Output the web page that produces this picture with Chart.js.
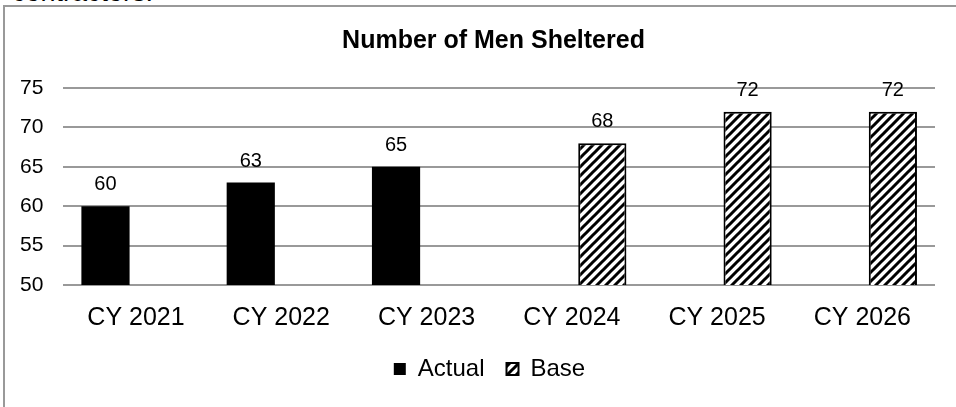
<!DOCTYPE html>
<html>
<head>
<meta charset="utf-8">
<script src="https://cdn.jsdelivr.net/npm/chart.js@4.4.1/dist/chart.umd.min.js"></script>
<style>
  html, body { margin: 0; padding: 0; background: #fff; overflow: hidden; }
  body { width: 956px; height: 407px; position: relative; font-family: "Liberation Sans", Arial, sans-serif; }
  .prev { position: absolute; left: 12px; top: -21px; font-size: 27px; line-height: 27px; color: #000; }
  .frame { position: absolute; left: 3px; top: 5px; width: 1000px; height: 500px; border: 2px solid #999; box-sizing: border-box; }
  #chart-1 { position: absolute; left: 0; top: 0; }
</style>
</head>
<body>
<div class="prev">contractors.</div>
<div class="frame"></div>
<canvas id="chart-1" width="956" height="407"></canvas>
<script>
// values
const categories = ['CY 2021', 'CY 2022', 'CY 2023', 'CY 2024', 'CY 2025', 'CY 2026'];
const actualValues = [60, 63, 65, null, null, null];
const baseValues = [null, null, null, 68, 72, 72];
const yTicks = [50, 55, 60, 65, 70, 75];

Chart.defaults.font.family = '"Liberation Sans", Arial, sans-serif';
Chart.defaults.color = '#000';

// diagonal hatch for the "Base" bars
function makeHatch() {
  const size = 9;
  const c = document.createElement('canvas');
  c.width = size;
  c.height = size;
  const g = c.getContext('2d');
  g.fillStyle = '#fff';
  g.fillRect(0, 0, size, size);
  g.strokeStyle = '#000';
  g.lineWidth = 3;
  g.beginPath();
  g.moveTo(-1, size + 1); g.lineTo(size + 1, -1);
  g.moveTo(-2, 2); g.lineTo(2, -2);
  g.moveTo(size - 2, size + 2); g.lineTo(size + 2, size - 2);
  g.stroke();
  return g.createPattern(c, 'repeat');
}

// value labels above each bar
const valueLabels = {
  id: 'valueLabels',
  afterDatasetsDraw(chart) {
    const ctx = chart.ctx;
    ctx.save();
    ctx.font = '20px "Liberation Sans", Arial, sans-serif';
    ctx.fillStyle = '#000';
    ctx.textAlign = 'center';
    ctx.textBaseline = 'alphabetic';
    chart.data.datasets.forEach((ds, i) => {
      const meta = chart.getDatasetMeta(i);
      meta.data.forEach((bar, j) => {
        const v = ds.data[j];
        if (v === null || v === undefined) return;
        ctx.fillText(String(v), bar.x, bar.y - 16);
      });
    });
    ctx.restore();
  }
};

// nudge the legend and title a bit right, like the original
const boxShift = {
  id: 'boxShift',
  afterLayout(chart) {
    if (chart.legend) {
      chart.legend.left += 22;
      chart.legend.right += 22;
    }
    if (chart.titleBlock) {
      chart.titleBlock.left += 26;
      chart.titleBlock.right += 26;
    }
  }
};

const hatch = makeHatch();

const ctx = document.getElementById('chart-1').getContext('2d');
new Chart(ctx, {
  type: 'bar',
  data: {
    labels: categories,
    datasets: [{
      label: 'Actual',
      data: actualValues,
      backgroundColor: '#000',
      borderColor: '#000',
      borderWidth: 0,
      categoryPercentage: 0.84,
      barPercentage: 0.79
    }, {
      label: 'Base',
      data: baseValues,
      backgroundColor: hatch,
      borderColor: '#000',
      borderWidth: 2,
      categoryPercentage: 0.84,
      barPercentage: 0.79
    }]
  },
  options: {
    responsive: false,
    devicePixelRatio: 1,
    animation: false,
    layout: { padding: { left: 0, right: 21, top: 0, bottom: 16 } },
    scales: {
      x: {
        grid: { display: false, drawTicks: true, tickLength: 16 },
        border: { display: false },
        ticks: { font: { size: 25 }, padding: 2, maxRotation: 0 }
      },
      y: {
        min: 50,
        max: 75,
        afterBuildTicks: (axis) => { axis.ticks = yTicks.map(v => ({ value: v })); },
        grid: { color: '#999', lineWidth: 2, drawTicks: false },
        border: { display: false },
        ticks: { font: { size: 21 }, padding: 20 }
      }
    },
    plugins: {
      title: {
        display: true,
        text: 'Number of Men Sheltered',
        font: { size: 25, weight: 'bold' },
        color: '#000',
        padding: { top: 26, bottom: 32 }
      },
      legend: {
        position: 'bottom',
        labels: {
          font: { size: 24 },
          boxWidth: 12,
          boxHeight: 12,
          padding: 22,
          color: '#000'
        }
      },
      tooltip: { enabled: false }
    }
  },
  plugins: [valueLabels, boxShift]
});
</script>
</body>
</html>
